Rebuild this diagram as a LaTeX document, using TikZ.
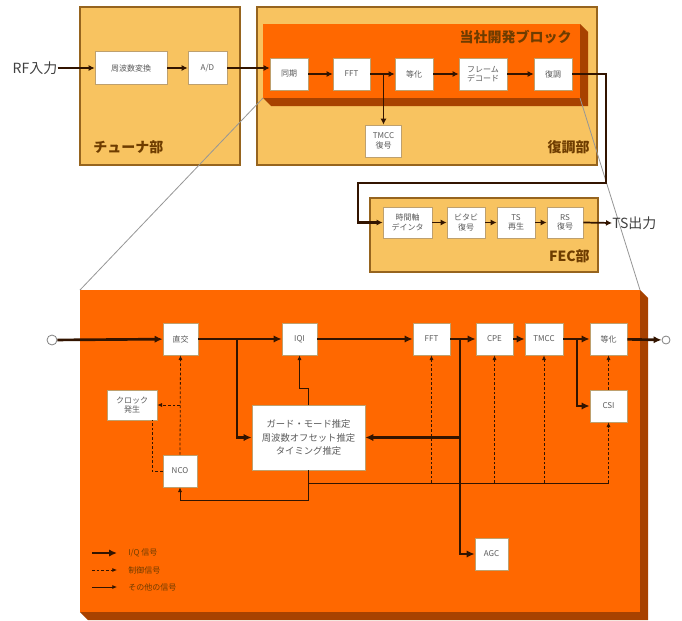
\documentclass[tikz,border=0pt]{standalone}
\usepackage{fontspec}
\setmainfont{Noto Sans CJK JP}
\usetikzlibrary{arrows.meta}
\definecolor{ltor}{RGB}{248,195,96}
\definecolor{frm}{RGB}{150,100,30}
\definecolor{orng}{RGB}{255,104,0}
\definecolor{shd}{RGB}{168,66,0}
\definecolor{lnc}{RGB}{50,20,0}
\definecolor{boxline}{RGB}{190,160,110}
\definecolor{txt}{RGB}{90,90,90}
\definecolor{lbl}{RGB}{110,60,0}
\definecolor{zoomln}{RGB}{150,150,150}
\begin{document}
\begin{tikzpicture}[x=0.75pt,y=-0.75pt,
  blk/.style={draw=boxline, line width=0.5pt, fill=white, inner sep=0.5pt, align=center,
    font=\fontsize{6}{7}\selectfont, text=txt},
  bw/.style={minimum width=#1*0.75pt},
  bh/.style={minimum height=#1*0.75pt},
  frame/.style={draw=frm, line width=1pt, fill=ltor},
  lab/.style={font=\fontsize{10.5}{12}\selectfont\bfseries, text=lbl, inner sep=0pt},
  topar/.style={line width=1.3pt, draw=lnc, -{Latex[length=4.5pt,width=4.5pt]}},
  iq/.style={line width=2pt, draw=lnc, -{Latex[length=6pt,width=5.5pt]}},
  ctl/.style={line width=0.6pt, draw=lnc, dash pattern=on 2pt off 1.5pt, -{Latex[length=3.5pt,width=3pt]}},
  oth/.style={line width=0.6pt, draw=lnc, -{Latex[length=3.5pt,width=3pt]}},
  legtxt/.style={font=\fontsize{6}{7}\selectfont, text=lbl, anchor=west, inner sep=0pt}
]
\useasboundingbox (0,0) rectangle (682,621);

% ---------- frames ----------
\path[frame] (80,7) rectangle (240,165);
\path[frame] (257,7) rectangle (597,165);
\path[frame] (370,198) rectangle (598,272);
% inner developed block (3D)
\fill[shd] (580,24) -- (588,32) -- (588,106) -- (271,106) -- (263,98) -- (580,98) -- cycle;
\fill[orng] (263,24) rectangle (580,98);

% big detail box (3D)
\fill[shd] (640,290) -- (648,298) -- (648,620) -- (88,620) -- (80,612) -- (640,612) -- cycle;
\fill[orng] (80,290) rectangle (640,612);

% zoom lines
\draw[zoomln, line width=0.6pt] (263,98) -- (80,290);
\draw[zoomln, line width=0.6pt] (580,98) -- (640,290);

% labels
\node[lab, anchor=west] (lt) at (93,147) {チューナ部};
\node[lab, anchor=east] (ld) at (590,147) {復調部};
\node[lab, anchor=east] (lb) at (572,37) {当社開発ブロック};
\node[lab, anchor=east] (lf) at (590,256) {FEC部};
\node[font=\fontsize{10.5}{12}\selectfont, text=black!75, inner sep=0pt] (rf) at (35,68) {RF入力};
\node[font=\fontsize{10.5}{12}\selectfont, text=black!75, inner sep=0pt, anchor=west] (ts) at (612,223) {TS出力};

% ---------- top blocks ----------
\node[blk,bw=72,bh=33] (freq) at (131,68) {周波数変換};
\node[blk,bw=39,bh=33] (ad) at (207.5,68) {A/D};
\node[blk,bw=38,bh=32] (sync) at (289,74) {同期};
\node[blk,bw=37,bh=32] (fft1) at (351.5,74) {FFT};
\node[blk,bw=38,bh=32] (eq1) at (414,74) {等化};
\node[blk,bw=48,bh=32] (frame) at (483,74) {フレーム\\デコード};
\node[blk,bw=38,bh=32] (dem) at (553,74) {復調};
\node[blk,bw=36,bh=32] (tmcc1) at (383.5,141) {TMCC\\復号};

\node[blk,bw=49,bh=31] (deint) at (407.5,222.5) {時間軸\\デインタ};
\node[blk,bw=38,bh=31] (vit) at (466,222.5) {ビタビ\\復号};
\node[blk,bw=38,bh=31] (tsr) at (516,222.5) {TS\\再生};
\node[blk,bw=36,bh=31] (rs) at (565,222.5) {RS\\復号};

\coordinate (c1) at (606,74);
\coordinate (c2) at (606,183);
\coordinate (c3) at (358,183);
\coordinate (tb) at (383.5,74);

\draw[topar] (rf.east) -- (freq.west);
\draw[topar] (freq) -- (ad);
\draw[topar] (ad.east) -- (sync.west |- ad.east);
\draw[topar] (sync) -- (fft1);
\draw[topar] (fft1) -- (eq1);
\draw[topar] (tb) -- (tmcc1.north);
\draw[topar] (eq1) -- (frame);
\draw[topar] (frame) -- (dem);
\draw[topar, line width=1.6pt] (dem.east) -- (c1) -- (c2) -- (c3) |- (deint.west);
\draw[topar] (deint) -- (vit);
\draw[topar] (vit) -- (tsr);
\draw[topar] (tsr) -- (rs);
\draw[topar] (rs.east) -- (ts.west);

% ---------- detail blocks ----------
\node[circle, draw=black!50, fill=white, line width=0.6pt, minimum size=7.5pt, inner sep=0pt] (in) at (52,340) {};
\node[circle, draw=black!50, fill=white, line width=0.6pt, minimum size=6pt, inner sep=0pt] (out) at (666,340) {};
\node[blk,bw=35,bh=32] (quad) at (180.5,339) {直交};
\node[blk,bw=35,bh=32] (iqi) at (299.5,339) {IQI};
\node[blk,bw=37,bh=32] (fft2) at (431.5,339) {FFT};
\node[blk,bw=37,bh=32] (cpe) at (494.5,339) {CPE};
\node[blk,bw=38,bh=32] (tmcc2) at (544,339) {TMCC};
\node[blk,bw=37,bh=32] (eq2) at (608.5,339) {等化};
\node[blk,bw=37,bh=32] (csi) at (608.5,406) {CSI};
\node[blk,bw=113,bh=65,font=\fontsize{7}{10}\selectfont] (guard) at (308.5,437.5) {ガード・モード推定\\周波数オフセット推定\\タイミング推定};
\node[blk,bw=50,bh=30] (clock) at (132,405) {クロック\\発生};
\node[blk,bw=34,bh=32] (nco) at (180,471) {NCO};
\node[blk,bw=33,bh=32] (agc) at (491.5,554) {AGC};

% I/Q signals
\coordinate (b1) at (237,339);
\coordinate (b2) at (460,339);
\coordinate (b3) at (577,339);
\draw[iq] (in) -- (quad);
\draw[iq] (quad) -- (iqi);
\draw[iq] (iqi) -- (fft2);
\draw[iq] (fft2) -- (cpe);
\draw[iq] (cpe) -- (tmcc2);
\draw[iq] (tmcc2) -- (eq2);
\draw[iq] (eq2) -- (out);
\draw[iq] (b1) |- (guard.west);
\draw[iq] (b2) |- (agc.west);
\draw[iq] (b2 |- guard.east) -- (guard.east);
\draw[iq] (b3) |- (csi.west);

% control signals
\coordinate (bus1) at (308,483);
\coordinate (bus2) at (608.5,483);
\coordinate (ck) at (180,405);
\draw[ctl] (nco.north) -- (quad.south);
\draw[ctl] (ck) -- (clock.east);
\draw[ctl, -] (nco.west) -| (clock.south -| 152,0);
\draw[ctl] (fft2.south |- bus1) -- (fft2.south);
\draw[ctl] (cpe.south |- bus1) -- (cpe.south);
\draw[ctl] (tmcc2.south |- bus1) -- (tmcc2.south);
\draw[ctl] (bus2) -- (csi.south);
\draw[ctl] (csi.north) -- (eq2.south);

% other signals
\draw[oth] (guard.north -| 308,0) -- (308,388) -| (iqi.south);
\draw[oth] (guard.south -| 308,0) -- (308,500) -| (nco.south);
\draw[oth, -] (bus1) -- (bus2);

% legend
\coordinate (l1a) at (92,553); \coordinate (l1b) at (117,553);
\coordinate (l2a) at (92,570); \coordinate (l2b) at (117,570);
\coordinate (l3a) at (92,587); \coordinate (l3b) at (117,587);
\draw[iq] (l1a) -- (l1b);
\draw[ctl] (l2a) -- (l2b);
\draw[oth] (l3a) -- (l3b);
\node[legtxt] (t1) at (128,553) {I/Q 信号};
\node[legtxt] (t2) at (128,570) {制御信号};
\node[legtxt] (t3) at (128,587) {その他の信号};
\end{tikzpicture}
\end{document}
